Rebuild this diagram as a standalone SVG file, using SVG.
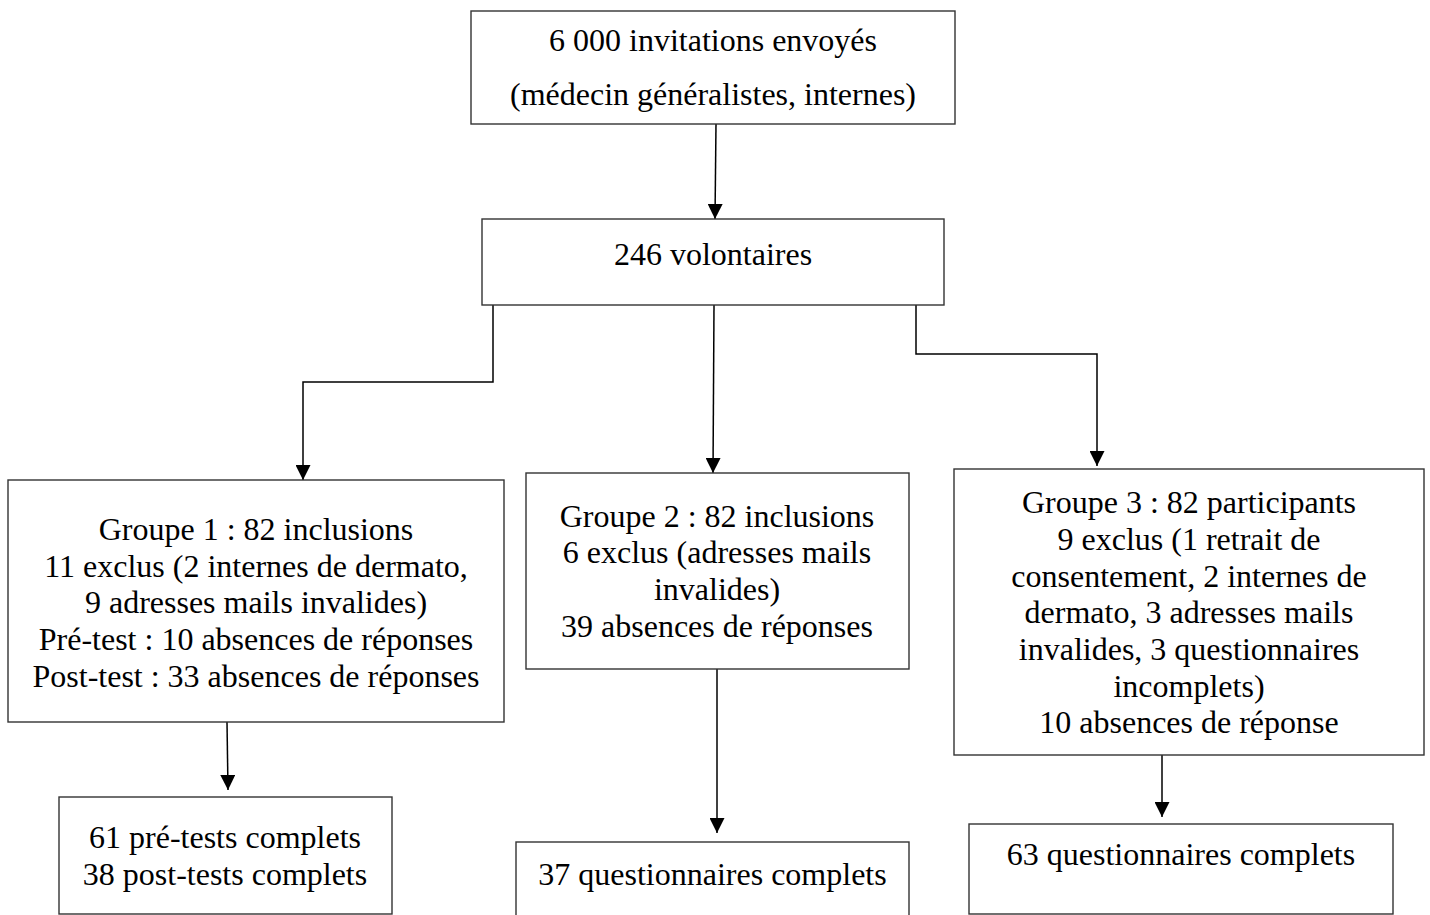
<svg xmlns="http://www.w3.org/2000/svg" width="1430" height="915" viewBox="0 0 1430 915">
<style>
.box{fill:#fff;stroke:#333;stroke-width:1.4}
.t{font-family:"Liberation Serif","Times New Roman",serif;font-size:32px;fill:#000;text-anchor:middle}
.c{fill:none;stroke:#000;stroke-width:1.5}
</style>
<defs>
<marker id="ah" viewBox="0 0 10 10" refX="10" refY="5" markerWidth="15" markerHeight="15" markerUnits="userSpaceOnUse" orient="auto">
<path d="M0,0 L10,5 L0,10 z" fill="#000"/>
</marker>
</defs>
<rect width="1430" height="915" fill="#fff"/>
<g id="connectors">
<path class="c" d="M716,124 L715,219" marker-end="url(#ah)"/>
<path class="c" d="M493,305 L493,382 L303,382 L303,480" marker-end="url(#ah)"/>
<path class="c" d="M714,305 L713,473" marker-end="url(#ah)"/>
<path class="c" d="M916,305 L916,354 L1097,354 L1097,466" marker-end="url(#ah)"/>
<path class="c" d="M227,722 L228,790" marker-end="url(#ah)"/>
<path class="c" d="M717,669 L717,833" marker-end="url(#ah)"/>
<path class="c" d="M1162,755 L1162,817" marker-end="url(#ah)"/>
</g>
<g id="invitations">
<rect class="box" x="471" y="11" width="484" height="113"/>
<text class="t" x="713" y="51">6 000 invitations envoyés</text>
<text class="t" x="713" y="105">(médecin généralistes, internes)</text>
</g>
<g id="volontaires">
<rect class="box" x="482" y="219" width="462" height="86"/>
<text class="t" x="713" y="265">246 volontaires</text>
</g>
<g id="groupe1">
<rect class="box" x="8" y="480" width="496" height="242"/>
<text class="t" x="256" y="540">Groupe 1 : 82 inclusions</text>
<text class="t" x="256" y="577">11 exclus (2 internes de dermato,</text>
<text class="t" x="256" y="613">9 adresses mails invalides)</text>
<text class="t" x="256" y="650">Pré-test : 10 absences de réponses</text>
<text class="t" x="256" y="687">Post-test : 33 absences de réponses</text>
</g>
<g id="groupe2">
<rect class="box" x="526" y="473" width="383" height="196"/>
<text class="t" x="717" y="527">Groupe 2 : 82 inclusions</text>
<text class="t" x="717" y="563">6 exclus (adresses mails</text>
<text class="t" x="717" y="600">invalides)</text>
<text class="t" x="717" y="637">39 absences de réponses</text>
</g>
<g id="groupe3">
<rect class="box" x="954" y="469" width="470" height="286"/>
<text class="t" x="1189" y="513">Groupe 3 : 82 participants</text>
<text class="t" x="1189" y="550">9 exclus (1 retrait de</text>
<text class="t" x="1189" y="587">consentement, 2 internes de</text>
<text class="t" x="1189" y="623">dermato, 3 adresses mails</text>
<text class="t" x="1189" y="660">invalides, 3 questionnaires</text>
<text class="t" x="1189" y="697">incomplets)</text>
<text class="t" x="1189" y="733">10 absences de réponse</text>
</g>
<g id="resultat1">
<rect class="box" x="59" y="797" width="333" height="117"/>
<text class="t" x="225" y="848">61 pré-tests complets</text>
<text class="t" x="225" y="885">38 post-tests complets</text>
</g>
<g id="resultat2">
<rect class="box" x="516" y="842" width="393" height="90"/>
<text class="t" x="712.5" y="885">37 questionnaires complets</text>
</g>
<g id="resultat3">
<rect class="box" x="969" y="824" width="424" height="90"/>
<text class="t" x="1181" y="865">63 questionnaires complets</text>
</g>
</svg>
